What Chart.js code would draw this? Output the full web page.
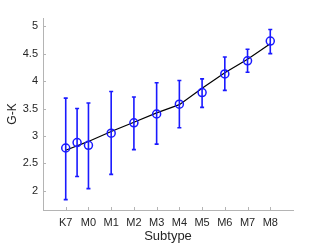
<!DOCTYPE html>
<html>
<head>
<meta charset="utf-8">
<script src="https://cdn.jsdelivr.net/npm/chart.js@4"></script>
<style>
  html, body { margin: 0; padding: 0; background: #fff; }
  #wrap { width: 324px; height: 243px; }
</style>
</head>
<body>
<div id="wrap"><canvas id="chart" width="324" height="243"></canvas></div>
<script>
// tick labels on the x axis (positions 0..9)
const subtypes = ["K7", "M0", "M1", "M2", "M3", "M4", "M5", "M6", "M7", "M8"];
// measured points (one extra half-step point between K7 and M0)
const pointPos = [0, 0.5, 1, 2, 3, 4, 5, 6, 7, 8, 9];
const meanGK  = [2.78, 2.88, 2.83, 3.05, 3.24, 3.40, 3.58, 3.79, 4.13, 4.37, 4.73];
const upperGK = [3.69, 3.50, 3.60, 3.81, 3.71, 3.97, 4.01, 4.04, 4.44, 4.58, 4.94];
const lowerGK = [1.84, 2.26, 2.04, 2.30, 2.75, 2.85, 3.15, 3.52, 3.83, 4.16, 4.50];
// black relation drawn through the integer subtypes
const fitPos = [0, 1, 2, 3, 4, 5, 6, 7, 8, 9];
const fitGK  = [2.74, 2.90, 3.08, 3.25, 3.42, 3.57, 3.87, 4.15, 4.40, 4.68];
const yTicks = [2, 2.5, 3, 3.5, 4, 4.5, 5];

const blue = "#1a1aff";
const axisGrey = "#b4b4b4";
const textCol = "#262626";

const errorBars = {
  id: "errorBars",
  afterDatasetsDraw(chart) {
    const ctx = chart.ctx;
    const xs = chart.scales.x, ys = chart.scales.y;
    ctx.save();
    // inner tick marks
    ctx.strokeStyle = axisGrey;
    ctx.lineWidth = 1;
    const bottom = chart.chartArea.bottom, left = chart.chartArea.left;
    ctx.beginPath();
    subtypes.forEach((s, i) => {
      const px = Math.round(xs.getPixelForValue(i)) + 0.5;
      ctx.moveTo(px, bottom); ctx.lineTo(px, bottom - 3);
    });
    yTicks.forEach(v => {
      const py = Math.round(ys.getPixelForValue(v)) + 0.5;
      ctx.moveTo(left, py); ctx.lineTo(left + 3, py);
    });
    ctx.stroke();
    // error bars
    ctx.strokeStyle = blue;
    ctx.lineWidth = 1.6;
    pointPos.forEach((p, i) => {
      const px = xs.getPixelForValue(p);
      const top = ys.getPixelForValue(upperGK[i]);
      const bot = ys.getPixelForValue(lowerGK[i]);
      ctx.beginPath();
      ctx.moveTo(px, top); ctx.lineTo(px, bot);
      ctx.moveTo(px - 2, top); ctx.lineTo(px + 2, top);
      ctx.moveTo(px - 2, bot); ctx.lineTo(px + 2, bot);
      ctx.stroke();
    });
    ctx.restore();
  }
};

new Chart(document.getElementById("chart"), {
  type: "scatter",
  data: {
    datasets: [
      {
        data: pointPos.map((p, i) => ({ x: p, y: meanGK[i] })),
        showLine: false,
        pointRadius: 4,
        pointBorderWidth: 1.5,
        pointBorderColor: blue,
        pointBackgroundColor: "rgba(0,0,0,0)",
        order: 1
      },
      {
        data: fitPos.map((p, i) => ({ x: p, y: fitGK[i] })),
        showLine: true,
        borderColor: "#000",
        borderWidth: 1.2,
        pointRadius: 0,
        tension: 0,
        order: 2
      }
    ]
  },
  plugins: [errorBars],
  options: {
    responsive: false,
    animation: false,
    events: [],
    layout: { padding: { top: 18, right: 31, left: 0, bottom: 0 } },
    plugins: { legend: { display: false }, tooltip: { enabled: false } },
    scales: {
      x: {
        type: "linear",
        min: -1, max: 10,
        afterBuildTicks: s => { s.ticks = subtypes.map((_, i) => ({ value: i })); },
        afterFit: s => { s.height = 33; },
        grid: { display: false, drawTicks: false },
        border: { display: true, color: axisGrey, width: 1 },
        ticks: {
          autoSkip: false, maxRotation: 0, padding: 6,
          color: textCol,
          font: { family: "Liberation Sans", size: 11 },
          callback: v => subtypes[v]
        },
        title: {
          display: true, text: "Subtype", color: textCol,
          font: { family: "Liberation Sans", size: 13 },
          padding: { top: 1, bottom: -1 }
        }
      },
      y: {
        min: 1.65, max: 5.15,
        afterBuildTicks: s => { s.ticks = yTicks.map(v => ({ value: v })); },
        afterFit: s => { s.width = 43; },
        grid: { display: false, drawTicks: false },
        border: { display: true, color: axisGrey, width: 1 },
        ticks: {
          padding: 5, color: textCol,
          font: { family: "Liberation Sans", size: 11 },
          callback: v => String(v)
        },
        title: {
          display: true, text: "G-K", color: textCol,
          font: { family: "Liberation Sans", size: 12 },
          padding: { top: 5, bottom: 2 }
        }
      }
    }
  }
});
</script>
</body>
</html>
